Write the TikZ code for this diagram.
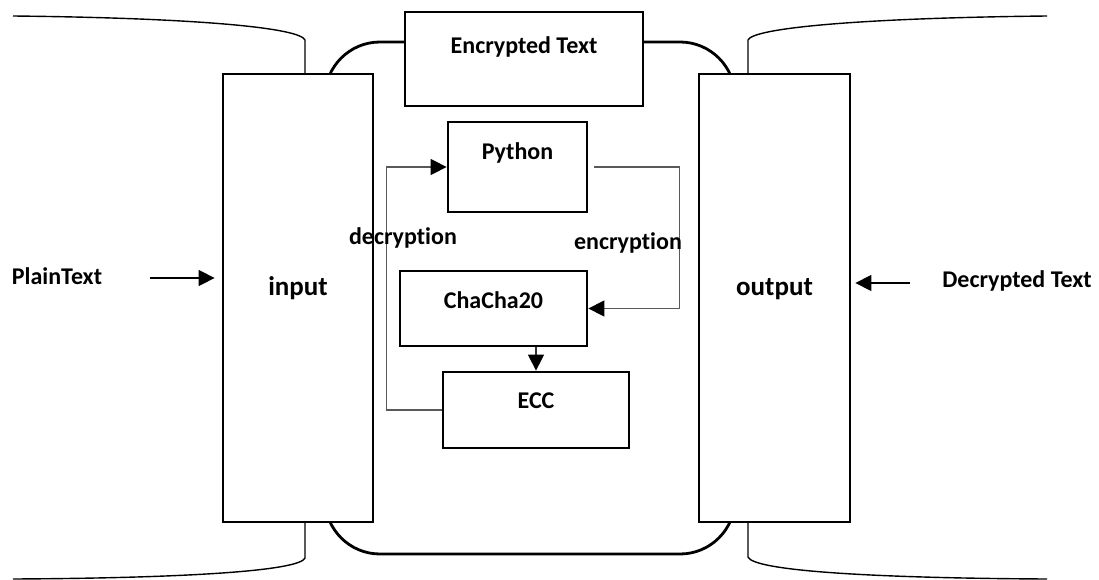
\documentclass[tikz,border=0pt]{standalone}
\usepackage{fontspec}
\setmainfont{Carlito}[Ligatures=CommonOff]
\usetikzlibrary{arrows.meta,calc,positioning}

\begin{document}
\begin{tikzpicture}[x=1pt, y=-1pt,
    box/.style={draw, line width=2.8pt, fill=white, inner sep=0pt},
    lbl/.style={font=\fontsize{24}{28}\selectfont\bfseries, inner sep=0pt},
    biglbl/.style={font=\fontsize{27}{30}\selectfont\bfseries, inner sep=0pt},
    outline/.style={line width=1.4pt},
    link/.style={draw=black!65, line width=1.5pt},
    tip/.style={-{Triangle[length=16pt,width=16pt,color=black]}}]

    \useasboundingbox (0,0) rectangle (1099,580);

    % side curves
    \draw[outline] (13,16) .. controls (200,18) and (300,28) .. (305,40) -- (305,74);
    \draw[outline] (13,579) .. controls (200,578) and (300,570) .. (305,558) -- (305,522);
    \draw[outline] (1047,16) .. controls (860,18) and (753,28) .. (748,40) -- (748,74);
    \draw[outline] (1047,579) .. controls (860,578) and (753,570) .. (748,557) -- (748,522);

    % middle frame
    \node[draw, line width=2.8pt, rounded corners=55pt, minimum width=410pt, minimum height=512pt] (core) at (530,298) {};

    % boxes
    \node[box, minimum width=238pt, minimum height=94pt] (enc) at (524,59) {};
    \node[box, minimum width=150pt, minimum height=448pt] (input) at (298,298) {};
    \node[box, minimum width=151pt, minimum height=448pt] (output) at (774.5,298) {};
    \node[box, minimum width=139pt, minimum height=90pt] (python) at (517.5,167) {};
    \node[box, minimum width=187pt, minimum height=75pt] (chacha) at (493.5,308.5) {};
    \node[box, minimum width=186pt, minimum height=76pt] (ecc) at (536,410) {};

    % box texts
    \node[lbl] (enclbl) at ($(enc.north)+(0,36)$) {Encrypted Text};
    \node[biglbl] (inputlbl) at ($(input.center)+(0,-10)$) {input};
    \node[biglbl] (outputlbl) at ($(output.center)+(0,-9)$) {output};
    \node[lbl] (pythonlbl) at ($(python.north)+(0,32)$) {Python};
    \node[lbl] (chachalbl) at ($(chacha.north)+(0,31)$) {ChaCha20};
    \node[lbl] (ecclbl) at ($(ecc.north)+(0,30)$) {ECC};

    % outside texts
    \node[lbl] (plain) at (57,276) {PlainText};
    \node[lbl] (decr) at (1017,281) {Decrypted Text};
    \coordinate (plainarr) at (150,278);
    \coordinate (decrarr) at (910,283);
    \draw[line width=1.5pt, tip, shorten >=7pt] (plainarr) -- (plainarr -| input.west);
    \draw[line width=1.5pt, tip, shorten >=4pt] (decrarr) -- (decrarr -| output.east);

    % inner links
    \draw[link, tip] ($(python.east)+(6,0)$) -- ++(85,0) |- (chacha.east);
    \node[lbl] (enctxt) at (628,243) {encryption};
    \draw[link, tip] (ecc.west) -- ++(-55,0) |- (python.west);
    \node[lbl] (dectxt) at (403,238) {decryption};
    \draw[link, draw=black!80, tip] (chacha.south -| ecc.north) -- (ecc.north);

\end{tikzpicture}
\end{document}
